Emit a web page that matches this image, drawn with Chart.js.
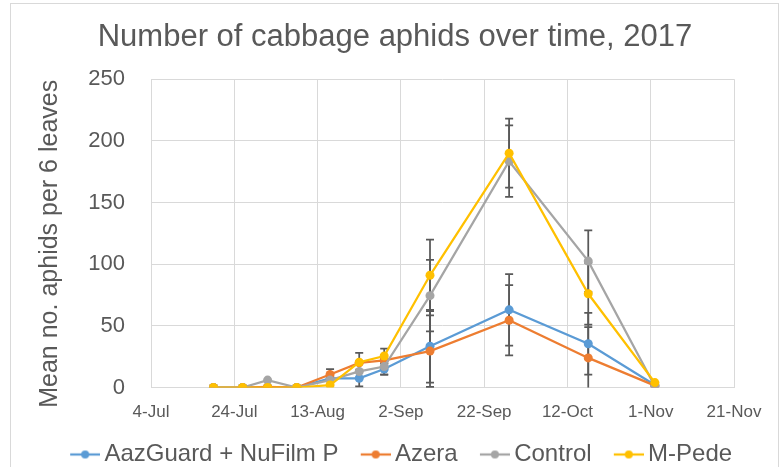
<!DOCTYPE html>
<html>
<head>
<meta charset="utf-8">
<script src="https://cdn.jsdelivr.net/npm/chart.js@4.4.1/dist/chart.umd.min.js"></script>
<style>
  html, body { margin: 0; padding: 0; background: #fff; overflow: hidden; }
  #wrap { width: 784px; height: 467px; position: relative; }
</style>
</head>
<body>
<div id="wrap"><canvas id="aphidChart" width="784" height="467"></canvas></div>
<script>
// Sampling dates as days after 4-Jul-2017
const sampleDays = [15, 22, 28, 35, 43, 50, 56, 67, 86, 105, 121];
const xTickLabels = ['4-Jul', '24-Jul', '13-Aug', '2-Sep', '22-Sep', '12-Oct', '1-Nov', '21-Nov'];
const seriesNames = ['AazGuard + NuFilm P', 'Azera', 'Control', 'M-Pede'];

// Mean aphids per 6 leaves
const aazguard = [0, 0, 0, 0, 7.5, 7.5, 15, 33.5, 63, 35.5, 2];
const azera    = [0, 0, 0.5, 0, 10.5, 20, 22, 29.5, 54.5, 24, 1.5];
const control  = [0, 0, 6, 0, 6, 13, 17, 74.5, 183.5, 102.5, 1];
const mpede    = [0, 0, 0, 0, 2, 20.5, 25.5, 91, 190, 76, 4];

// +/- error per point
const aazguardErr = [0, 0, 0, 0, 0, 6.5, 4.5, 29.5, 29, 25, 0];
const azeraErr    = [0, 0, 0, 0, 4.5, 0, 0, 29, 28.5, 25, 0];
const controlErr  = [0, 0, 0, 0, 0, 0, 6.5, 29, 29, 25, 0];
const mpedeErr    = [0, 0, 0, 0, 0, 7.5, 6, 29, 28, 25, 0];

const colors = ['#5B9BD5', '#ED7D31', '#A5A5A5', '#FFC000'];
const textColor = '#595959';
const gridColor = '#D9D9D9';
const fontFamily = '"Liberation Sans", Arial, sans-serif';

// legend marker: short line with a dot, transparent space on the left
function legendMarker(color) {
    const c = document.createElement('canvas');
    c.width = 50;
    c.height = 10;
    const g = c.getContext('2d');
    g.strokeStyle = color;
    g.lineWidth = 2.25;
    g.beginPath();
    g.moveTo(20, 5);
    g.lineTo(50, 5);
    g.stroke();
    g.fillStyle = color;
    g.beginPath();
    g.arc(35, 5, 4, 0, Math.PI * 2);
    g.fill();
    return c;
}

function makeDataset(i, values, errs) {
    return {
        label: seriesNames[i],
        data: sampleDays.map((d, k) => ({x: d, y: values[k]})),
        errors: errs,
        borderColor: colors[i],
        backgroundColor: colors[i],
        borderWidth: 2.25,
        pointRadius: 4.5,
        pointBorderWidth: 0,
        pointStyle: 'circle',
        legendStyle: legendMarker(colors[i]),
        order: 4 - i,
        tension: 0
    };
}

// draw vertical error bars with caps
const errorBarPlugin = {
    id: 'errorBars',
    beforeDatasetsDraw(chart) {
        const ctx = chart.ctx;
        const xs = chart.scales.x;
        const ys = chart.scales.y;
        ctx.save();
        ctx.strokeStyle = '#595959';
        ctx.lineWidth = 1.75;
        chart.data.datasets.forEach(ds => {
            ds.data.forEach((p, k) => {
                const e = ds.errors[k];
                if (!e) return;
                const x = xs.getPixelForValue(p.x);
                const yTop = ys.getPixelForValue(p.y + e);
                const yBot = ys.getPixelForValue(Math.max(p.y - e, 0));
                ctx.beginPath();
                ctx.moveTo(x, yTop);
                ctx.lineTo(x, yBot);
                ctx.moveTo(x - 4, yTop);
                ctx.lineTo(x + 4, yTop);
                if (p.y - e >= 0) {
                    ctx.moveTo(x - 4, yBot);
                    ctx.lineTo(x + 4, yBot);
                }
                ctx.stroke();
            });
        });
        ctx.restore();
    }
};

// outer chart border
const borderPlugin = {
    id: 'outerBorder',
    afterDraw(chart) {
        const ctx = chart.ctx;
        ctx.save();
        ctx.strokeStyle = gridColor;
        ctx.lineWidth = 1;
        ctx.strokeRect(10.5, 3.5, 768, 480);
        ctx.restore();
    }
};

new Chart(document.getElementById('aphidChart'), {
    type: 'line',
    data: {
        datasets: [
            makeDataset(0, aazguard, aazguardErr),
            makeDataset(1, azera, azeraErr),
            makeDataset(2, control, controlErr),
            makeDataset(3, mpede, mpedeErr)
        ]
    },
    options: {
        responsive: false,
        animation: false,
        layout: { padding: { left: 6, right: 0, top: 0, bottom: -9.5 } },
        plugins: {
            title: {
                display: true,
                text: 'Number of cabbage aphids over time, 2017',
                color: textColor,
                font: { family: fontFamily, size: 31, weight: 'normal', lineHeight: 1.2 },
                padding: { top: 19, bottom: 23 }
            },
            legend: {
                position: 'bottom',
                labels: {
                    color: textColor,
                    font: { family: fontFamily, size: 24 },
                    usePointStyle: true,
                    pointStyleWidth: 34.5,
                    padding: 10,
                    sort: (a, b) => a.datasetIndex - b.datasetIndex,
                    generateLabels(chart) {
                        return chart.data.datasets.map((ds, i) => ({
                            text: ds.label,
                            pointStyle: ds.legendStyle,
                            fillStyle: ds.backgroundColor,
                            strokeStyle: ds.borderColor,
                            lineWidth: 0,
                            fontColor: textColor,
                            hidden: false,
                            datasetIndex: i
                        }));
                    }
                }
            },
            tooltip: { enabled: false }
        },
        scales: {
            x: {
                type: 'linear',
                min: 0,
                max: 140,
                grid: { color: gridColor, lineWidth: 1, drawTicks: false },
                border: { color: gridColor },
                ticks: {
                    stepSize: 20,
                    padding: 15,
                    color: textColor,
                    font: { family: fontFamily, size: 17 },
                    maxRotation: 0,
                    callback: (v, i) => xTickLabels[i]
                },
                afterFit(scale) { scale.height = 45; }
            },
            y: {
                min: 0,
                max: 250,
                grid: { color: gridColor, lineWidth: 1, drawTicks: false },
                border: { display: false },
                ticks: {
                    stepSize: 50,
                    padding: 26,
                    color: textColor,
                    font: { family: fontFamily, size: 22 }
                },
                title: {
                    display: true,
                    text: 'Mean no. aphids per 6 leaves   ',
                    color: textColor,
                    font: { family: fontFamily, size: 25 },
                    padding: { top: 29, bottom: 0 }
                },
                afterFit(scale) { scale.width = 145; }
            },
            // empty right-hand space so the title and legend centre on the whole chart
            yRight: {
                position: 'right',
                display: true,
                grid: { display: false },
                border: { display: false },
                ticks: { display: false },
                afterFit(scale) { scale.width = 50; }
            }
        }
    },
    plugins: [errorBarPlugin, borderPlugin]
});
</script>
</body>
</html>
